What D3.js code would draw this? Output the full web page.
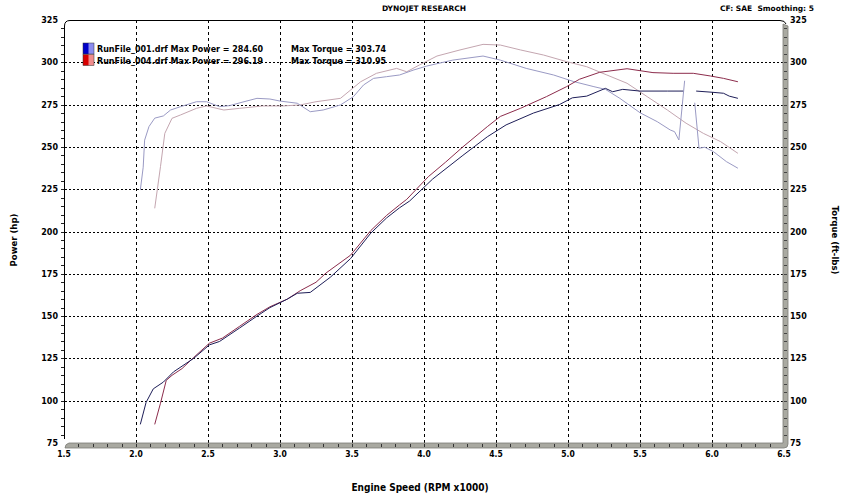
<!DOCTYPE html>
<html>
<head>
<meta charset="utf-8">
<script src="https://cdn.jsdelivr.net/npm/d3@7"></script>
<style>
  body { margin: 0; background: #fff; }
  text { font-family: "DejaVu Sans", Verdana, sans-serif; font-weight: bold; fill: #000; }
  .cond { font-family: "DejaVu Sans Condensed", "DejaVu Sans", sans-serif; }
</style>
</head>
<body>
<svg id="chart" width="851" height="499"></svg>
<script>
// run 001 (blue)
var rpm001Power = [2.03, 2.07, 2.12, 2.19, 2.26, 2.40, 2.51, 2.58, 2.72, 2.84, 2.93, 3.05, 3.12, 3.21, 3.35, 3.49, 3.63, 3.74, 3.83, 3.90, 4.06, 4.27, 4.44, 4.57, 4.76, 4.94, 5.03, 5.13, 5.26, 5.31, 5.38, 5.50, 5.69, 5.80, 5.84, 5.89, 6.00, 6.08, 6.12, 6.18]
var power001 = [86, 99, 107, 111, 117, 125, 133, 135, 143, 150, 155, 160, 163.5, 164, 173, 184, 199, 208, 214, 218, 231, 245, 256, 263, 270, 275, 279, 280, 284.6, 282.6, 284, 283, 283, 283, null, 283, 282.3, 281.7, 280, 278.7]
var rpm001Torque = [2.03, 2.05, 2.06, 2.09, 2.13, 2.19, 2.24, 2.31, 2.42, 2.49, 2.58, 2.65, 2.75, 2.84, 2.93, 3.00, 3.12, 3.21, 3.30, 3.42, 3.51, 3.58, 3.65, 3.74, 3.83, 3.93, 4.02, 4.20, 4.41, 4.53, 4.71, 4.90, 5.04, 5.18, 5.26, 5.36, 5.50, 5.62, 5.71, 5.74, 5.77, 5.81, 5.85, 5.88, 5.91, 5.95, 6.01, 6.10, 6.18]
var torque001 = [224.5, 238, 254, 262, 267, 268.3, 271.8, 273.8, 276.7, 276.7, 273.8, 274.4, 276.7, 278.7, 278.3, 277.1, 275.8, 270.8, 271.8, 274.8, 279.7, 286.6, 290.5, 291.5, 292.5, 295.5, 297.8, 301.3, 303.7, 301.3, 296.4, 292.5, 288.6, 285.6, 284, 278.7, 270.2, 264.9, 260, 259, 254.1, 289.1, null, 276.1, 249.2, 249.8, 247.2, 241.3, 237.4]

// run 004 (red)
var rpm004Power = [2.13, 2.17, 2.21, 2.25, 2.32, 2.40, 2.51, 2.60, 2.72, 2.84, 2.93, 3.05, 3.14, 3.25, 3.32, 3.49, 3.63, 3.74, 3.83, 3.88, 4.03, 4.15, 4.27, 4.44, 4.53, 4.67, 4.85, 4.99, 5.08, 5.22, 5.41, 5.59, 5.73, 5.87, 5.99, 6.08, 6.18]
var power004 = [86, 98.5, 112, 115, 119, 125.5, 134, 137, 144, 151, 155.5, 160, 165, 170, 175.5, 186, 200.5, 209.5, 215.7, 219, 232.4, 241, 250, 262, 268, 272.8, 279.7, 285.6, 290, 294.1, 296.2, 293.9, 293.5, 293.5, 291.9, 290.5, 288.5]
var rpm004Torque = [2.13, 2.17, 2.20, 2.25, 2.31, 2.42, 2.49, 2.61, 2.72, 2.88, 3.02, 3.14, 3.25, 3.42, 3.49, 3.56, 3.67, 3.81, 3.88, 3.97, 4.09, 4.25, 4.41, 4.53, 4.67, 4.83, 4.99, 5.13, 5.27, 5.41, 5.55, 5.69, 5.82, 5.94, 6.06, 6.18]
var torque004 = [213.7, 238.3, 258, 266.9, 268.9, 272.8, 274.2, 271.8, 272.8, 274.2, 274.2, 274.8, 276.7, 278.7, 283.6, 288.5, 293.5, 296.4, 294.4, 298.5, 303.7, 307.3, 310.6, 310.2, 307.3, 304.3, 300.4, 297.4, 292.5, 287.6, 279.7, 271.8, 264, 258, 253.1, 246.2]

var rpmTicks = [1.5, 2.0, 2.5, 3.0, 3.5, 4.0, 4.5, 5.0, 5.5, 6.0, 6.5]
var valueTicks = [75, 100, 125, 150, 175, 200, 225, 250, 275, 300, 325]
var legendRows = [
  { name: 'RunFile_001.drf', power: '284.60', torque: '303.74', dark: '#0000c8', light: '#8c8cf0' },
  { name: 'RunFile_004.drf', power: '296.19', torque: '310.95', dark: '#d80000', light: '#f08c8c' }
]

var svg = d3.select('#chart')
var pL = 64, pR = 784, pT = 20, pB = 443

var x = d3.scaleLinear().domain([1.5, 6.5]).range([pL, pR])
var y = d3.scaleLinear().domain([75, 325]).range([pB, pT])

// grid
var grid = svg.append('g')
grid.selectAll('line.v')
  .data(rpmTicks.slice(1, -1))
  .enter().append('line')
  .attr('x1', d => Math.round(x(d)) + 0.5).attr('x2', d => Math.round(x(d)) + 0.5)
  .attr('y1', pT).attr('y2', pB)
  .style('stroke', '#000')
  .style('stroke-width', 1)
  .style('stroke-dasharray', '3,3')
grid.selectAll('line.h')
  .data(valueTicks.slice(1, -1))
  .enter().append('line')
  .attr('x1', pL - 3).attr('x2', pR)
  .attr('y1', d => Math.round(y(d)) + 0.5).attr('y2', d => Math.round(y(d)) + 0.5)
  .style('stroke', '#000')
  .style('stroke-width', 1)
  .style('stroke-dasharray', '2,2')

// frame: top + left lines with rounded corner
svg.append('path')
  .attr('d', 'M' + (pL + 0.5) + ',' + (pB - 4) + ' L' + (pL + 0.5) + ',' + (pT + 6) +
    ' Q' + (pL + 0.5) + ',' + (pT + 0.5) + ' ' + (pL + 6) + ',' + (pT + 0.5) +
    ' L' + (pR - 4) + ',' + (pT + 0.5) + ' Q' + (pR + 1) + ',' + (pT + 0.5) + ' ' + (pR + 2) + ',' + (pT + 4))
  .style('fill', 'none')
  .style('stroke', '#000')
  .style('stroke-width', 1)

// 3d bars on bottom and right
svg.append('path')
  .attr('d', 'M' + (pL + 1) + ',' + (pB + 5) + ' Q' + (pL + 1) + ',' + (pB + 1) + ' ' + (pL + 5) + ',' + (pB) +
    ' L' + (pR - 1) + ',' + pB + ' L' + (pR - 1) + ',' + (pT + 4) + ' L' + (pR + 4) + ',' + (pT + 6) +
    ' L' + (pR + 4) + ',' + (pB + 1) + ' Q' + (pR + 4) + ',' + (pB + 5) + ' ' + (pR) + ',' + (pB + 5) + ' Z')
  .style('fill', '#a9a9a1')
  .style('stroke', '#7c7c76')
  .style('stroke-width', 0.8)

var minorX = d3.range(16, 65).map(d => d / 10)
svg.append('g').selectAll('line')
  .data(minorX)
  .enter().append('line')
  .attr('x1', d => Math.round(x(d)) + 0.5).attr('x2', d => Math.round(x(d)) + 0.5)
  .attr('y1', pB + 1).attr('y2', pB + 4)
  .style('stroke', '#333')
  .style('stroke-width', 1)

var minorY = d3.range(80, 325, 5)
svg.append('g').selectAll('line')
  .data(minorY)
  .enter().append('line')
  .attr('x1', pR).attr('x2', pR + 3)
  .attr('y1', d => Math.round(y(d)) + 0.5).attr('y2', d => Math.round(y(d)) + 0.5)
  .style('stroke', '#444')
  .style('stroke-width', 1)
svg.append('g').selectAll('line')
  .data(minorY)
  .enter().append('line')
  .attr('x1', pL - 3).attr('x2', pL)
  .attr('y1', d => Math.round(y(d)) + 0.5).attr('y2', d => Math.round(y(d)) + 0.5)
  .style('stroke', '#222')
  .style('stroke-width', 1)

// tick labels
svg.append('g').selectAll('text')
  .data(valueTicks)
  .enter().append('text')
  .attr('x', pL - 6)
  .attr('y', d => y(d) + 3)
  .attr('text-anchor', 'end')
  .style('font-size', '8px')
  .text(d => d)
svg.append('g').selectAll('text')
  .data(valueTicks)
  .enter().append('text')
  .attr('x', pR + 6)
  .attr('y', d => y(d) + 3)
  .style('font-size', '8px')
  .text(d => d)
svg.append('g').selectAll('text')
  .data(rpmTicks)
  .enter().append('text')
  .attr('class', 'cond')
  .attr('x', d => x(d))
  .attr('y', pB + 14)
  .attr('text-anchor', 'middle')
  .style('font-size', '8.5px')
  .text(d => d.toFixed(1))

// axis titles
svg.append('text')
  .attr('class', 'cond')
  .attr('x', 420).attr('y', 491)
  .attr('text-anchor', 'middle')
  .style('font-size', '10px')
  .text('Engine Speed (RPM x1000)')
svg.append('text')
  .attr('transform', 'translate(17,240) rotate(-90)')
  .attr('text-anchor', 'middle')
  .style('font-size', '8.5px')
  .text('Power (hp)')
svg.append('text')
  .attr('transform', 'translate(832,240) rotate(90)')
  .attr('text-anchor', 'middle')
  .style('font-size', '8.5px')
  .text('Torque (ft-lbs)')

// header
svg.append('text')
  .attr('x', 424).attr('y', 11)
  .attr('text-anchor', 'middle')
  .style('font-size', '7.5px')
  .text('DYNOJET RESEARCH')
svg.append('text')
  .attr('x', 720).attr('y', 11)
  .style('font-size', '7.5px')
  .style('white-space', 'pre')
  .text('CF: SAE  Smoothing: 5')

// curves
function pairs(xs, ys) {
  return xs.map((d, i) => [d, ys[i]])
}
var line = d3.line()
  .defined(d => d[1] != null)
  .x(d => x(d[0]))
  .y(d => y(d[1]))

var curves = [
  { data: pairs(rpm004Torque, torque004), color: '#c4a6b0' },
  { data: pairs(rpm001Torque, torque001), color: '#9a9ac4' },
  { data: pairs(rpm004Power, power004), color: '#8c2c4c' },
  { data: pairs(rpm001Power, power001), color: '#1e1e58' }
]
svg.append('g').selectAll('path')
  .data(curves)
  .enter().append('path')
  .attr('d', d => line(d.data))
  .style('fill', 'none')
  .style('stroke', d => d.color)
  .style('stroke-width', 1)
  .style('stroke-linejoin', 'round')

// legend
var defs = svg.append('defs')
legendRows.forEach(function (r, i) {
  var grad = defs.append('linearGradient')
    .attr('id', 'lg' + i)
    .attr('x1', '0%').attr('x2', '100%')
  grad.append('stop').attr('offset', '0%').style('stop-color', r.dark)
  grad.append('stop').attr('offset', '45%').style('stop-color', r.dark)
  grad.append('stop').attr('offset', '55%').style('stop-color', r.light)
  grad.append('stop').attr('offset', '100%').style('stop-color', r.light)
})
var legend = svg.append('g').selectAll('g')
  .data(legendRows)
  .enter().append('g')
  .attr('transform', (d, i) => 'translate(0,' + (i * 11.5) + ')')
legend.append('rect')
  .attr('x', 83).attr('y', 43)
  .attr('width', 11).attr('height', 11)
  .style('fill', (d, i) => 'url(#lg' + i + ')')
  .style('stroke', '#333')
  .style('stroke-width', 0.5)
legend.append('text')
  .attr('x', 97).attr('y', 52)
  .style('font-size', '8px')
  .text(d => d.name + ' Max Power = ' + d.power)
legend.append('text')
  .attr('x', 291).attr('y', 52)
  .style('font-size', '8px')
  .text(d => 'Max Torque = ' + d.torque)
</script>
</body>
</html>
